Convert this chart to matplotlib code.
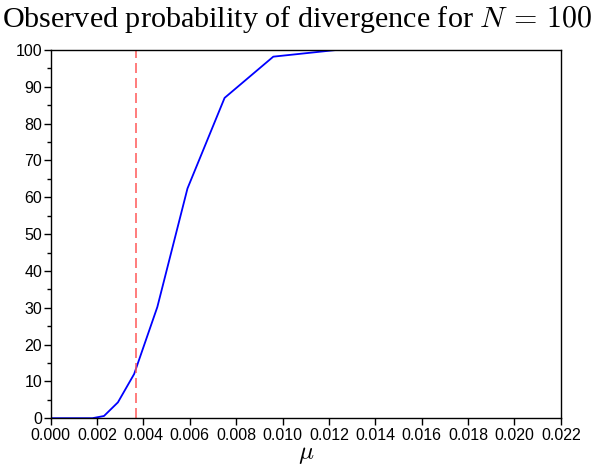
import numpy as np
import matplotlib.pyplot as plt
from matplotlib.ticker import MultipleLocator

plt.rcParams['mathtext.fontset'] = 'cm'

# mutation rate vs. observed divergence percentage
mu = [0.0, 0.0018, 0.0023, 0.0029, 0.0036, 0.0046, 0.0059, 0.0075, 0.0096, 0.0123, 0.0157, 0.0200]
diverged = [0.0, 0.0, 0.6, 4.3, 12.0, 30.2, 62.4, 87.0, 98.2, 100.0, 100.0, 100.0]
mu_crit = 0.00367

fig = plt.figure(figsize=(5.96, 4.72), dpi=100)
ax = fig.add_axes([0.085, 0.114, 0.856, 0.780])

ax.plot(mu, diverged, color='blue', lw=1.3)
ax.axvline(mu_crit, color='#ff5555', ls=(0, (6, 3)), lw=1.2, alpha=0.9)

ax.set_xlim(0, 0.022)
ax.set_ylim(0, 100)
ax.xaxis.set_major_locator(MultipleLocator(0.002))
ax.yaxis.set_major_locator(MultipleLocator(10))
ax.yaxis.set_minor_locator(MultipleLocator(5))
ax.set_xticklabels([f'{v:.3f}' for v in ax.get_xticks()])

ax.tick_params(direction='out', labelsize=11.5, length=5, width=1, pad=2)
ax.tick_params(which='minor', direction='out', length=3, width=1)
ax.tick_params(axis='y', pad=1)
for lab in ax.get_xticklabels() + ax.get_yticklabels():
    lab.set_family('Liberation Sans')
for s in ax.spines.values():
    s.set_linewidth(1.0)

ax.set_xlabel(r'$\mu$', fontsize=18, labelpad=-1)
fig.text(0.4985, 1 - 27 / 472, r'Observed probability of divergence for $N\,=\,100$',
         family='Liberation Serif', fontsize=21.7, ha='center', va='baseline')

fig.savefig('out.png', dpi=100)
